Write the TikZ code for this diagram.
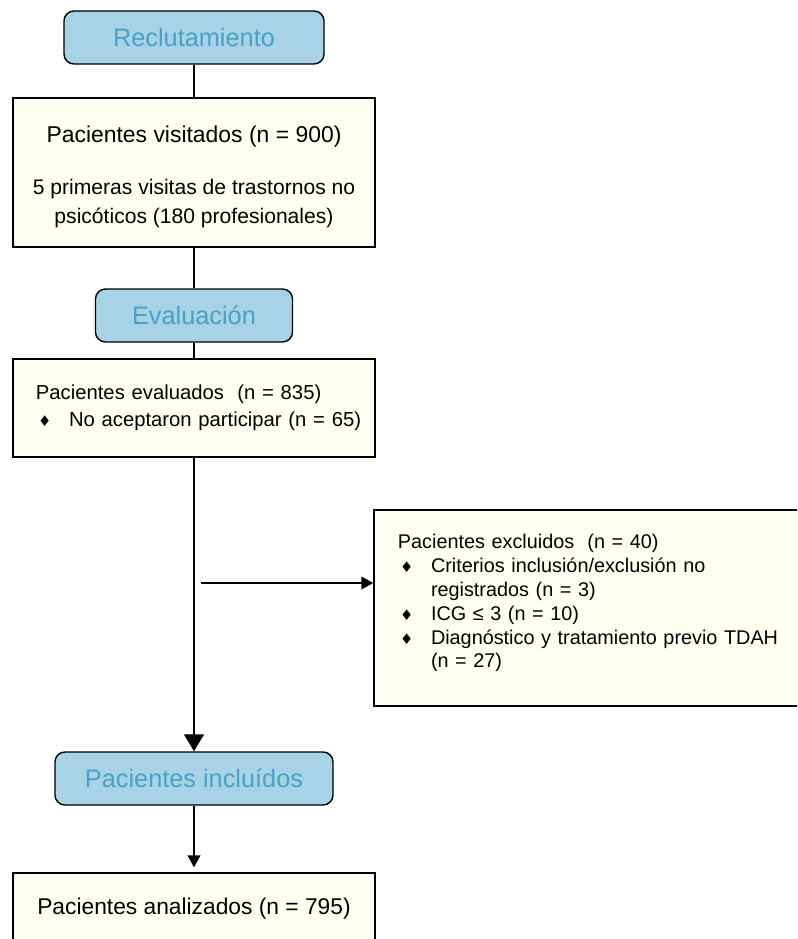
\documentclass[tikz,border=0pt]{standalone}
\usepackage{fontspec}
\setmainfont{Liberation Sans}
\newfontfamily\symfont{DejaVu Sans}
\usetikzlibrary{arrows.meta}
\definecolor{phaseblue}{HTML}{A8D3E6}
\definecolor{phasetext}{HTML}{47A2C6}
\definecolor{boxcream}{HTML}{FFFFF2}
\newcommand{\itm}{\makebox[23.5pt][l]{\hspace{1.5pt}{\symfont\fontsize{10.5}{10}\selectfont ♦}}}
\newcommand{\cont}{\hspace*{23.5pt}}
\begin{document}
\begin{tikzpicture}[x=0.025cm, y=-0.025cm,
        phase/.style={draw, line width=1pt, rounded corners=0.25cm, fill=phaseblue,
            text=phasetext, font=\fontsize{18}{22}\selectfont,
            minimum height=1.325cm, inner sep=0pt},
        box/.style={draw, line width=1pt, fill=boxcream, inner sep=0pt},
        link/.style={line width=1.2pt},
        bigtip/.style={-{Triangle[length=12pt,width=14pt]}},
        smalltip/.style={-{Triangle[length=8.5pt,width=9pt]}}]
        \useasboundingbox (0,0) rectangle (797,939);
        \clip (0,0) rectangle (797,939);

        \node[phase, minimum width=6.5cm] (recl) at (194,37.5) {Reclutamiento};
        \node[box, minimum width=9.05cm, minimum height=3.725cm, align=center,
            font=\fontsize{15}{20}\selectfont] (visit) at (194,172.5)
            {\rule{0pt}{18pt}{\fontsize{16.3}{20}\selectfont Pacientes visitados (n = 900)}\\[17pt]
             5 primeras visitas de trastornos no\\ psicóticos (180 profesionales)};
        \node[phase, minimum width=4.925cm] (eval) at (194,315.5) {Evaluación};
        \node[box, text width=7.9cm, inner xsep=0.575cm, minimum height=2.45cm, align=left,
            font=\fontsize{14.4}{19.2}\selectfont] (evald) at (194,408)
            {\mbox{Pacientes evaluados\ \ (n = 835)}\\
             \mbox{\itm No aceptaron participar (n = 65)}};
        \node[box, text width=9.575cm, inner xsep=0.6cm, minimum height=4.9cm, align=left,
            font=\fontsize{14.1}{17}\selectfont] (excl) at (589.5,608)
            {\mbox{Pacientes excluidos\ \ (n = 40)}\\
             \mbox{\itm Criterios inclusión/exclusión no}\\
             \mbox{\cont registrados (n = 3)}\\
             \mbox{\itm ICG ≤ 3 (n = 10)}\\
             \mbox{\itm Diagnóstico y tratamiento previo TDAH}\\
             \mbox{\cont (n = 27)}\\[-7pt]\mbox{}};
        \node[phase, minimum width=6.95cm] (incl) at (194,778.5) {Pacientes incluídos};
        \node[box, minimum width=9.05cm, minimum height=1.8cm,
            font=\fontsize{16.2}{20}\selectfont] (anal) at (194,909) {Pacientes analizados (n = 795)};

        \draw[link] (recl.south) -- (visit.north);
        \draw[link] (visit.south) -- (eval.north);
        \draw[link] (eval.south) -- (evald.north);
        \draw[link, bigtip] (evald.south) -- (incl.north);
        \coordinate (split) at (201,583);
        \draw[link, smalltip] (split) -- (split -| excl.west);
        \draw[link, smalltip, shorten >=3.5pt] (incl.south) -- (anal.north);
    \end{tikzpicture}
\end{document}
